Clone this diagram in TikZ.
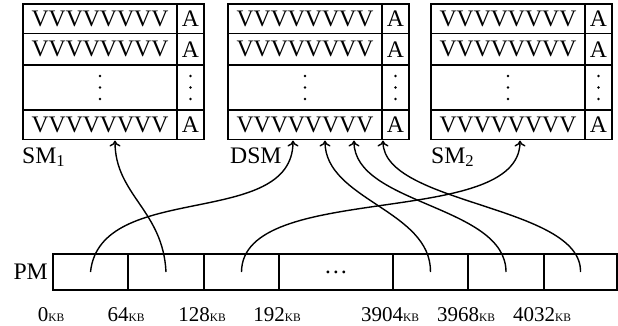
\documentclass[tikz,border=0pt]{standalone}
\usepackage{fontspec}
\setmainfont{Liberation Serif}
\usetikzlibrary{arrows.meta}
\newcommand\mainfs{\fontsize{23.7}{28}\selectfont}
\newcommand\labfs{\fontsize{21}{24}\selectfont}
\newcommand\kbfs{{\fontsize{11.5}{12}\selectfont KB}}
\newcommand\memblock[2]{%
  \node[vcol, minimum height=29.5pt] (#1v1) at (#2+77,-18.75) {VVVVVVVV};
  \node[acol, minimum height=29.5pt] (#1a1) at (#2+167.5,-18.75) {A};
  \node[vcol, minimum height=31.5pt] (#1v2) at (#2+77,-49.25) {VVVVVVVV};
  \node[acol, minimum height=31.5pt] (#1a2) at (#2+167.5,-49.25) {A};
  \node[vcol, minimum height=45pt] (#1v3) at (#2+77,-87.5) {};
  \node[acol, minimum height=45pt] (#1a3) at (#2+167.5,-87.5) {};
  \node[vcol, minimum height=29.5pt] (#1v4) at (#2+77,-124.75) {VVVVVVVV};
  \node[acol, minimum height=29.5pt] (#1a4) at (#2+167.5,-124.75) {A};
  \foreach \dy in {-11.5,0,11.5}{%
    \fill ([yshift=\dy]#1v3.center) circle (1.4pt);
    \fill ([yshift=\dy]#1a3.center) circle (1.4pt);
  }
}
\tikzset{
  cellbox/.style={draw, line width=1.6pt, inner sep=0pt, font=\mainfs},
  vcol/.style={cellbox, minimum width=154pt},
  acol/.style={cellbox, minimum width=27pt},
  pmcell/.style={draw, line width=1.6pt, inner sep=0pt, minimum height=36pt, font=\mainfs},
  conn/.style={line width=1.4pt, -{To[length=6pt,width=11pt]}},
  lab/.style={inner sep=0pt, font=\mainfs},
  kblab/.style={inner sep=0pt, font=\labfs, anchor=base},
}
\begin{document}
\begin{tikzpicture}[x=1pt,y=1pt]
\useasboundingbox (0,0) rectangle (618,-326);
% memory blocks
\memblock{smA}{23}
\memblock{dsm}{228}
\memblock{smB}{431}
% labels
\node[lab, anchor=base west] (sm1lab) at (22,-163) {SM\textsubscript{1}};
\node[lab, anchor=base west] (dsmlab) at (230,-163) {DSM};
\node[lab, anchor=base west] (sm2lab) at (431,-163) {SM\textsubscript{2}};
\node[lab, anchor=base east] (pmlab) at (48,-279) {PM};
% PM cells
\node[pmcell, minimum width=75pt] (pm1) at (90.5,-272) {};
\node[pmcell, minimum width=76pt] (pm2) at (166,-272) {};
\node[pmcell, minimum width=75pt] (pm3) at (241.5,-272) {};
\node[pmcell, minimum width=114pt] (pm4) at (336,-272) {\dots};
\node[pmcell, minimum width=75pt] (pm5) at (430.5,-272) {};
\node[pmcell, minimum width=76pt] (pm6) at (506,-272) {};
\node[pmcell, minimum width=73pt] (pm7) at (580.5,-272) {};
% address labels
\node[kblab] (k0) at (51,-321) {0\kbfs};
\node[kblab] (k64) at (126,-321) {64\kbfs};
\node[kblab] (k128) at (202,-321) {128\kbfs};
\node[kblab] (k192) at (277,-321) {192\kbfs};
\node[kblab] (k3904) at (390,-321) {3904\kbfs};
\node[kblab] (k3968) at (466,-321) {3968\kbfs};
\node[kblab] (k4032) at (542,-321) {4032\kbfs};
% arrow targets
\coordinate (ts1) at (115,-140.5);
\coordinate (td1) at (293,-140.5);
\coordinate (td2) at (325,-140.5);
\coordinate (td3) at (354,-140.5);
\coordinate (td4) at (383,-140.5);
\coordinate (ts2) at (520,-140.5);
% connectors
\draw[conn] (pm1.center) .. controls (100,-180) and (293,-230) .. (td1);
\draw[conn] (pm2.center) .. controls (163,-210) and (115,-195) .. (ts1);
\draw[conn] (pm3.center) .. controls (242,-180) and (520,-230) .. (ts2);
\draw[conn] (pm5.center) .. controls (431,-210) and (325,-200) .. (td2);
\draw[conn] (pm6.center) .. controls (506,-205) and (354,-205) .. (td3);
\draw[conn] (pm7.center) .. controls (582,-205) and (383,-205) .. (td4);
\end{tikzpicture}
\end{document}
